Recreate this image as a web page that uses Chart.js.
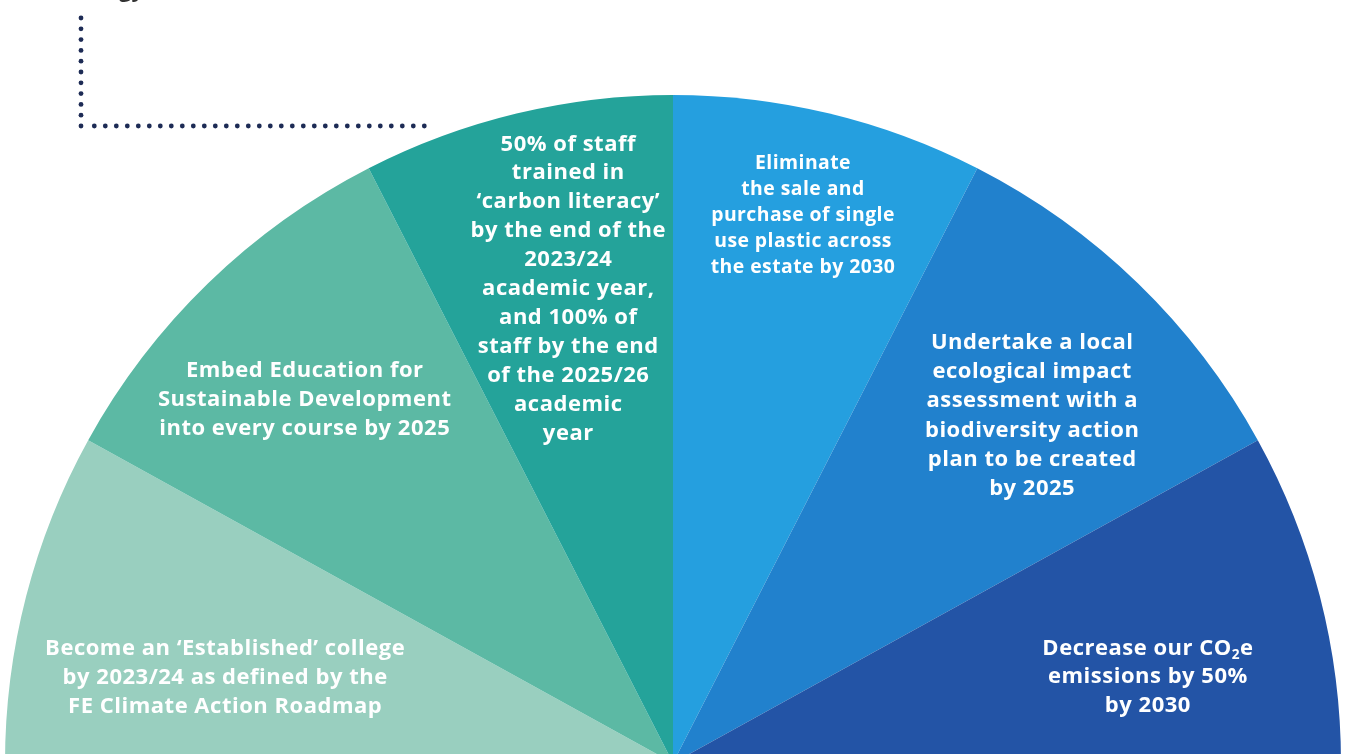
<!DOCTYPE html>
<html>
<head>
<meta charset="utf-8">
<script src="https://cdn.jsdelivr.net/npm/chart.js@4.4.0/dist/chart.umd.min.js"></script>
<style>
  html, body { margin: 0; padding: 0; background: #fff; overflow: hidden; }
  #wrap { position: absolute; left: 0; top: 0; width: 1347px; height: 770px; }
</style>
</head>
<body>
<div id="wrap"><canvas id="myChart"></canvas></div>
<script>
// six targets, share of the half circle (degrees)
let goals = [
    "Established college",
    "Education for Sustainable Development",
    "Carbon literacy",
    "Single use plastic",
    "Ecological impact",
    "CO2e emissions"
];
let shares = [28.9, 34, 27.1, 27.1, 34, 28.9];

let labelLines = [
    ["Become an \u2018Established\u2019 college", "by 2023/24 as defined by the", "FE Climate Action Roadmap"],
    ["Embed Education for", "Sustainable Development", "into every course by 2025"],
    ["50% of staff", "trained in", "\u2018carbon literacy\u2019", "by the end of the", "2023/24", "academic year,",
     "and 100% of", "staff by the end", "of the 2025/26", "academic", "year"],
    ["Eliminate", "the sale and", "purchase of single", "use plastic across", "the estate by 2030"],
    ["Undertake a local", "ecological impact", "assessment with a", "biodiversity action", "plan to be created", "by 2025"],
    ["Decrease our CO\u2082e", "emissions by 50%", "by 2030"]
];

let colors = ["#99cfbf", "#5cb9a4", "#24a39a", "#259fdf", "#2181cd", "#2354a6"];

// where each label sits: fraction of radius, angle from the left edge over the top
let labelPos = [
    [0.683, 11.0], [0.777, 44.8], [0.730, 77.6],
    [0.846, 103.3], [0.750, 135.8], [0.723, 169.5]
];
let labelSize = [22, 22, 22, 19.4, 22, 22];
let labelGap = [29, 29, 28.9, 26, 29.2, 28.5];

const FONT = "'Open Sans', 'Noto Sans', sans-serif";

function setFont(ctx, size) {
    ctx.font = "700 " + size + "px " + FONT;
    ctx.letterSpacing = (size * 0.023).toFixed(2) + "px";
}

function drawLine(ctx, text, x, y, size) {
    // handles the subscript 2 in CO2e
    let parts = text.split("\u2082");
    setFont(ctx, size);
    if (parts.length === 1) {
        ctx.textAlign = "center";
        ctx.fillText(text, x, y);
        return;
    }
    let subSize = size * 0.62;
    let w1 = ctx.measureText(parts[0]).width;
    let w3 = ctx.measureText(parts[1]).width;
    setFont(ctx, subSize);
    let w2 = ctx.measureText("2").width;
    let left = x - (w1 + w2 + w3) / 2;
    ctx.textAlign = "left";
    setFont(ctx, size);
    ctx.fillText(parts[0], left, y);
    setFont(ctx, subSize);
    ctx.fillText("2", left + w1, y + size * 0.32);
    setFont(ctx, size);
    ctx.fillText(parts[1], left + w1 + w2, y);
}

let labelsPlugin = {
    id: "goalLabels",
    afterDatasetsDraw(chart) {
        let ctx = chart.ctx;
        let meta = chart.getDatasetMeta(0);
        ctx.save();
        ctx.fillStyle = "#ffffff";
        ctx.textBaseline = "middle";
        meta.data.forEach(function (arc, i) {
            let r = arc.outerRadius * labelPos[i][0];
            let a = labelPos[i][1] * Math.PI / 180;
            let cx = arc.x - Math.cos(a) * r;
            let cy = arc.y - Math.sin(a) * r + 2;
            let lines = labelLines[i];
            let top = cy - (lines.length - 1) * labelGap[i] / 2;
            lines.forEach(function (ln, j) {
                drawLine(ctx, ln, cx, top + j * labelGap[i], labelSize[i]);
            });
        });
        ctx.restore();
    }
};

let decorPlugin = {
    id: "decor",
    beforeDraw(chart) {
        let ctx = chart.ctx;
        ctx.save();
        ctx.fillStyle = "#1d2b55";
        // dotted corner
        for (let k = 0; k <= 10; k++) {
            ctx.beginPath();
            ctx.arc(81, 126 - k * 10.8, 2.4, 0, Math.PI * 2);
            ctx.fill();
        }
        for (let k = 0; k <= 30; k++) {
            ctx.beginPath();
            ctx.arc(424.3 - k * 11, 126, 2.4, 0, Math.PI * 2);
            ctx.fill();
        }
        // heading cut off at the top edge
        ctx.fillStyle = "#333333";
        ctx.font = "700 22px " + FONT;
        ctx.textAlign = "right";
        ctx.textBaseline = "alphabetic";
        ctx.fillText("Strategy", 144, -3);
        ctx.restore();
    }
};

let canvas = document.getElementById("myChart");
let ctx = canvas.getContext("2d");

let data = {
    labels: goals,
    datasets: [
        {
            data: shares,
            backgroundColor: colors,
            borderWidth: 0
        }]
};

let options = {
    responsive: true,
    maintainAspectRatio: false,
    animation: false,
    rotation: -90,
    circumference: 180,
    layout: { padding: { top: 95, left: 5, right: 6, bottom: 7 } },
    plugins: {
        legend: { display: false },
        tooltip: { enabled: false }
    }
};

let myPieChart = new Chart(ctx, {
    type: 'pie',
    data: data,
    options: options,
    plugins: [decorPlugin, labelsPlugin]
});
</script>
</body>
</html>
